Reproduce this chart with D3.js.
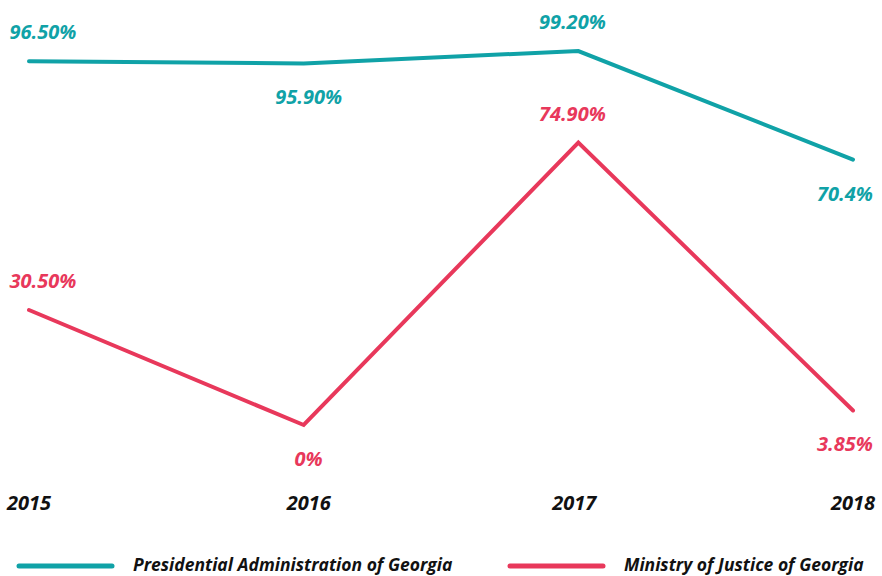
<!DOCTYPE html>
<html>
<head>
<meta charset="utf-8">
<script src="https://cdn.jsdelivr.net/npm/d3@7"></script>
<style>
  body { margin: 0; background: #fff; }
  text { font-family: "Open Sans", sans-serif; font-style: italic; font-weight: 700; }
</style>
</head>
<body>
<div id="chart"></div>
<script>
let w = 882;
let h = 576;

// data
let years = ["2015", "2016", "2017", "2018"];
let presidential = [96.5, 95.9, 99.2, 70.4];
let justice = [30.5, 0, 74.9, 3.85];
let presidentialLabels = ["96.50%", "95.90%", "99.20%", "70.4%"];
let justiceLabels = ["30.50%", "0%", "74.90%", "3.85%"];
let seriesNames = ["Presidential Administration of Georgia", "Ministry of Justice of Georgia"];

let teal = "#10a2a7";
let red = "#e8385b";

let viz = d3.select("#chart")
  .append("svg")
    .attr("width", w)
    .attr("height", h);

let x = d3.scalePoint()
  .domain(years)
  .range([29, 853]);

let y = d3.scaleLinear()
  .domain([0, 100])
  .range([425, 48]);

let line = d3.line()
  .x(function(d, i){ return x(years[i]); })
  .y(function(d){ return y(d); });

// label placement: alternate above / below the point
function labelX(i){
  if (i == 0) return x(years[i]) + 14;
  if (i == years.length - 1) return x(years[i]) - 8;
  if (i == 1) return x(years[i]) + 5;
  return x(years[i]) - 6;
}
function labelY(d, i){
  if (i % 2 == 0) return y(d) - 22;
  return y(d) + 41;
}

function drawSeries(values, labels, color){
  viz.append("path")
    .datum(values)
    .attr("d", line)
    .attr("fill", "none")
    .attr("stroke", color)
    .attr("stroke-width", 4)
    .attr("stroke-linecap", "round")
    .attr("stroke-linejoin", "miter");

  viz.selectAll(null).data(values)
    .enter()
    .append("text")
      .attr("x", function(d, i){ return labelX(i); })
      .attr("y", labelY)
      .attr("text-anchor", "middle")
      .attr("fill", color)
      .attr("font-size", 20)
      .text(function(d, i){ return labels[i]; });
}

drawSeries(presidential, presidentialLabels, teal);
drawSeries(justice, justiceLabels, red);

// year labels
viz.selectAll(".year").data(years)
  .enter()
  .append("text")
    .attr("class", "year")
    .attr("x", function(d, i){ return i == 1 ? x(d) + 5 : (i == 2 ? x(d) - 4 : x(d)); })
    .attr("y", 510)
    .attr("text-anchor", "middle")
    .attr("fill", "#111")
    .attr("font-size", 20)
    .text(function(d){ return d; });

// legend
let legendX = [19, 510];
let legend = viz.selectAll(".legend").data(seriesNames)
  .enter()
  .append("g")
    .attr("class", "legend")
    .attr("transform", function(d, i){ return "translate(" + legendX[i] + ", 566)"; });

legend.append("line")
  .attr("x1", 0)
  .attr("x2", 93)
  .attr("stroke", function(d, i){ return i == 0 ? teal : red; })
  .attr("stroke-width", 5)
  .attr("stroke-linecap", "round");

legend.append("text")
  .attr("x", 114)
  .attr("y", 5)
  .attr("fill", "#111")
  .attr("font-size", 17.5)
  .text(function(d){ return d; });
</script>
</body>
</html>
